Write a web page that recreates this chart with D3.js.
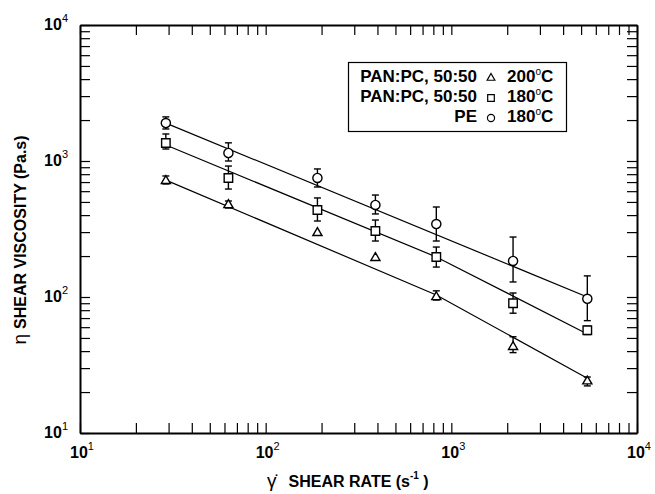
<!DOCTYPE html>
<html>
<head>
<meta charset="utf-8">
<script src="https://cdn.jsdelivr.net/npm/d3@7"></script>
<style>
  body { margin: 0; background: #fff; }
  text { font-family: "Liberation Sans", Arial, Helvetica, sans-serif; fill: #000; }
  .axis path, .axis line { stroke: #000; }
</style>
</head>
<body>
<div id="target"></div>
<script>
// shear rate (1/s) of each measurement column
const shearRate = [29, 63, 190, 390, 830, 2150, 5400];

// PE 180C
const pe180 = [1900, 1145, 750, 475, 344, 184, 97];
const pe180Low = [1720, 1000, 644, 408, 258, 129, 67];
const pe180High = [2110, 1360, 874, 562, 459, 276, 143];

// PAN:PC 50:50 180C
const panpc180 = [1355, 750, 436, 306, 197, 90, 57];
const panpc180Low = [1225, 622, 362, 258, 166, 76, 53];
const panpc180High = [1580, 918, 535, 368, 233, 107, 61];

// PAN:PC 50:50 200C
const panpc200 = [715, 475, 296, 194, 100, 43, 24];
const panpc200Low = [678, 451, null, null, 95, 39, 22.2];
const panpc200High = [776, 508, null, null, 111, 51, 25.8];

// fitted lines
const peFitRate = [29, 5400];
const peFit = [1900, 100];
const panpc180FitRate = [29, 830, 5400];
const panpc180Fit = [1310, 197, 53.5];
const panpc200FitRate = [29, 830, 5400];
const panpc200Fit = [724, 103.5, 25.3];

const decades = [10, 100, 1000, 10000];
const exponents = ['1', '2', '3', '4'];
const legendNames = ['PAN:PC, 50:50', 'PAN:PC, 50:50', 'PE'];
const legendTemps = ['200', '180', '180'];

const width = 655;
const height = 494;
const margin = {top: 25, right: 18, bottom: 61, left: 80};

const svg = d3.select('#target')
  .append('svg')
  .attr('width', width)
  .attr('height', height);

const x = d3.scaleLog()
  .domain([10, 10000])
  .range([margin.left, width - margin.right]);
const y = d3.scaleLog()
  .domain([10, 10000])
  .range([height - margin.bottom, margin.top]);

const tickLen = 10;

// axes, ticks pointing inward on all four sides
function styleAxis(g) {
  g.attr('class', 'axis');
  g.select('.domain').attr('stroke-width', 2);
  g.selectAll('.tick line').attr('stroke-width', 1.2);
}
svg.append('g')
  .attr('transform', `translate(0,${y(10)})`)
  .call(d3.axisBottom(x).tickValues(x.ticks()).tickSizeInner(-tickLen).tickSizeOuter(0).tickFormat(''))
  .call(styleAxis);
svg.append('g')
  .attr('transform', `translate(0,${y(10000)})`)
  .call(d3.axisTop(x).tickValues(x.ticks()).tickSizeInner(-tickLen).tickSizeOuter(0).tickFormat(''))
  .call(styleAxis);
svg.append('g')
  .attr('transform', `translate(${x(10)},0)`)
  .call(d3.axisLeft(y).tickValues(y.ticks()).tickSizeInner(-tickLen).tickSizeOuter(0).tickFormat(''))
  .call(styleAxis);
svg.append('g')
  .attr('transform', `translate(${x(10000)},0)`)
  .call(d3.axisRight(y).tickValues(y.ticks()).tickSizeInner(-tickLen).tickSizeOuter(0).tickFormat(''))
  .call(styleAxis);

function powLabel(t, i) {
  t.append('tspan').text('10');
  t.append('tspan')
    .attr('dy', -8)
    .attr('font-size', 11)
    .attr('font-weight', 'normal')
    .text(exponents[i]);
}

decades.forEach((d, i) => {
  svg.append('text')
    .attr('x', x(d) - 10)
    .attr('y', 458)
    .attr('font-size', 16)
    .attr('font-weight', 'bold')
    .call(powLabel, i);
  svg.append('text')
    .attr('x', 68)
    .attr('y', y(d) + 5)
    .attr('text-anchor', 'end')
    .attr('font-size', 16)
    .attr('font-weight', 'bold')
    .call(powLabel, i);
});

// axis titles
const xTitle = svg.append('text')
  .attr('x', 267)
  .attr('y', 487);
xTitle.append('tspan').attr('font-size', 19).text('\u03B3\u0307');
xTitle.append('tspan').attr('font-size', 16).attr('font-weight', 'bold').attr('dx', 12).text('SHEAR RATE (s');
xTitle.append('tspan').attr('font-size', 10).attr('font-weight', 'bold').attr('dy', -8).text('-1');
xTitle.append('tspan').attr('font-size', 16).attr('font-weight', 'bold').attr('dy', 8).text(' )');

const yTitle = svg.append('text')
  .attr('transform', 'translate(26,240) rotate(-90)')
  .attr('text-anchor', 'middle');
yTitle.append('tspan').attr('font-size', 19).text('\u03B7');
yTitle.append('tspan').attr('font-size', 16).attr('font-weight', 'bold').attr('dx', 5).text('SHEAR VISCOSITY (Pa.s)');

// fitted lines
const line = d3.line()
  .x((d) => x(d[0]))
  .y((d) => y(d[1]));

const fits = [
  [peFitRate, peFit],
  [panpc180FitRate, panpc180Fit],
  [panpc200FitRate, panpc200Fit]
];
svg.append('g')
  .selectAll('path')
  .data(fits)
  .enter()
  .append('path')
  .attr('d', (f) => line(f[0].map((r, i) => [r, f[1][i]])))
  .attr('fill', 'none')
  .attr('stroke', '#000')
  .attr('stroke-width', 1.2);

const series = [
  {values: pe180, low: pe180Low, high: pe180High, symbol: d3.symbolCircle, size: 66},
  {values: panpc180, low: panpc180Low, high: panpc180High, symbol: d3.symbolSquare, size: 72},
  {values: panpc200, low: panpc200Low, high: panpc200High, symbol: d3.symbolTriangle, size: 36}
];

const capW = 3.5;
series.forEach((s) => {
  const pts = shearRate.map((r, i) => ({r: r, v: s.values[i], lo: s.low[i], hi: s.high[i]}));
  const bars = svg.append('g')
    .attr('stroke', '#000')
    .attr('stroke-width', 1.4);
  pts.filter((p) => p.lo !== null).forEach((p) => {
    bars.append('line')
      .attr('x1', x(p.r)).attr('x2', x(p.r))
      .attr('y1', y(p.lo)).attr('y2', y(p.hi));
    bars.append('line')
      .attr('x1', x(p.r) - capW).attr('x2', x(p.r) + capW)
      .attr('y1', y(p.lo)).attr('y2', y(p.lo));
    bars.append('line')
      .attr('x1', x(p.r) - capW).attr('x2', x(p.r) + capW)
      .attr('y1', y(p.hi)).attr('y2', y(p.hi));
  });
  svg.append('g')
    .selectAll('path')
    .data(pts)
    .enter()
    .append('path')
    .attr('transform', (p) => `translate(${x(p.r)},${y(p.v)})`)
    .attr('d', d3.symbol().type(s.symbol).size(s.size))
    .attr('fill', '#fff')
    .attr('stroke', '#000')
    .attr('stroke-width', 1.4);
});

// legend
const legend = svg.append('g');
legend.append('rect')
  .attr('x', 348.5).attr('y', 62.5)
  .attr('width', 218).attr('height', 69)
  .attr('fill', '#fff')
  .attr('stroke', '#000')
  .attr('stroke-width', 1.2);
const legendSymbols = [d3.symbolTriangle, d3.symbolSquare, d3.symbolCircle];
const legendSizes = [26, 44, 40];
legendNames.forEach((name, i) => {
  const cy = 82 + i * 20;
  legend.append('text')
    .attr('x', 477).attr('y', cy)
    .attr('text-anchor', 'end')
    .attr('font-size', 17)
    .attr('font-weight', 'bold')
    .text(name);
  legend.append('path')
    .attr('transform', `translate(491,${cy - 4})`)
    .attr('d', d3.symbol().type(legendSymbols[i]).size(legendSizes[i]))
    .attr('fill', '#fff')
    .attr('stroke', '#000')
    .attr('stroke-width', 1.2);
  const t = legend.append('text')
    .attr('x', 507).attr('y', cy)
    .attr('font-size', 17)
    .attr('font-weight', 'bold');
  t.append('tspan').text(legendTemps[i]);
  t.append('tspan').attr('font-size', 10).attr('font-weight', 'normal').attr('dy', -7).text('o');
  t.append('tspan').attr('dy', 7).text('C');
});
</script>
</body>
</html>
